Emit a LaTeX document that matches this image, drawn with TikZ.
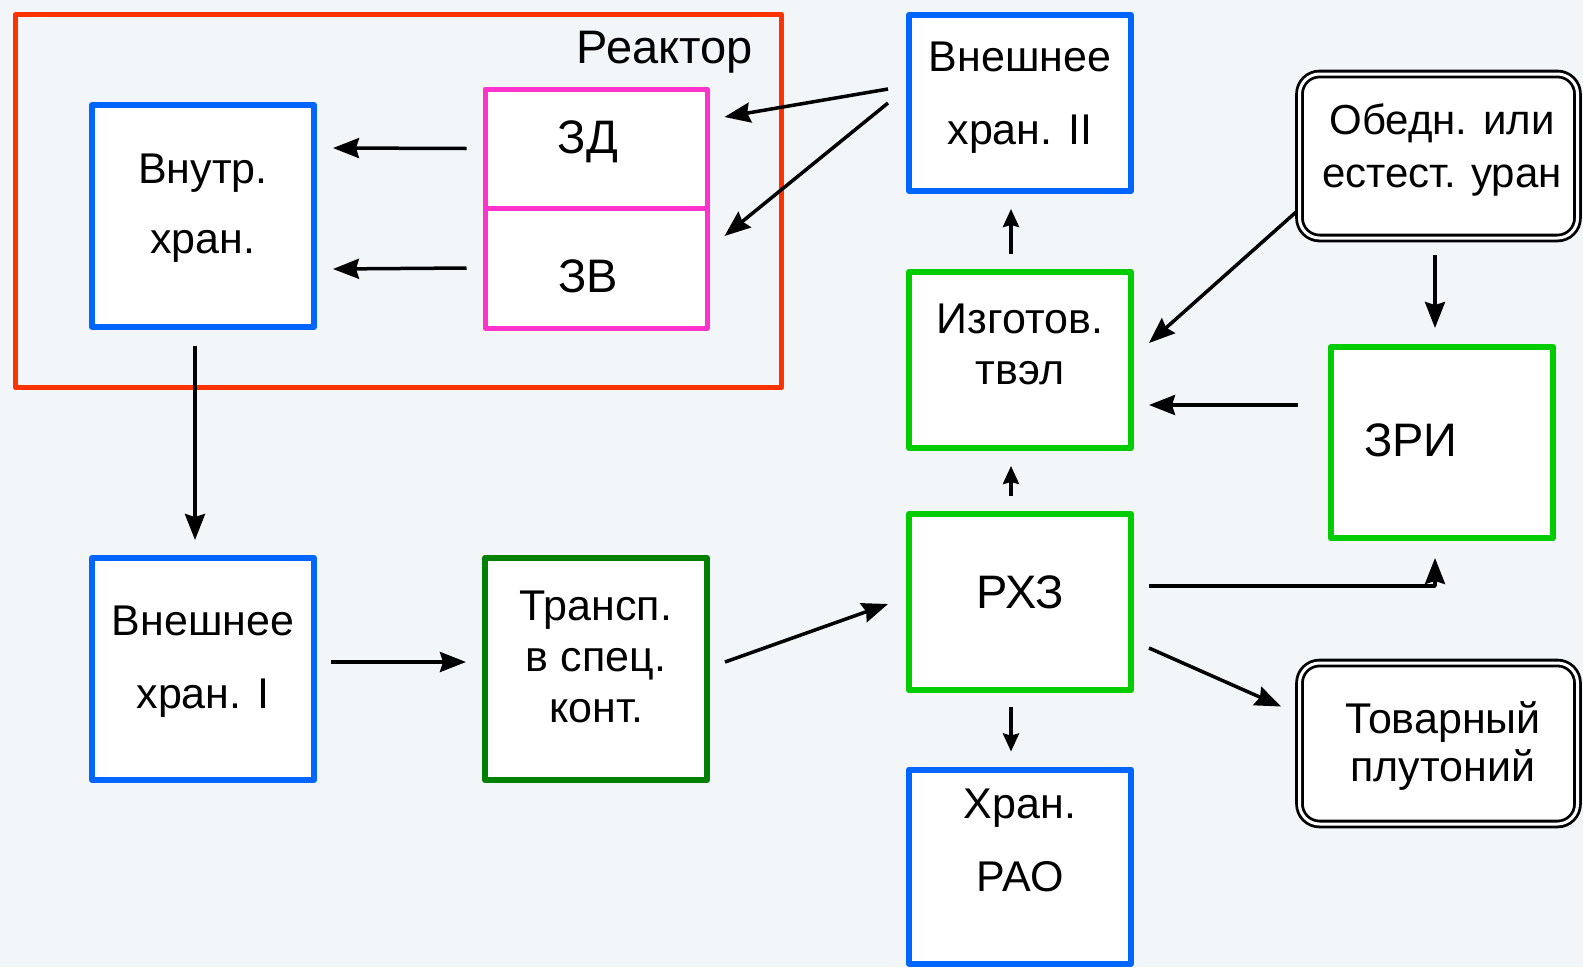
\documentclass[tikz,border=0pt]{standalone}
\usepackage{fontspec}
\setmainfont{Liberation Sans}
\usetikzlibrary{arrows.meta,calc}
\definecolor{boxblue}{RGB}{0,102,255}
\definecolor{boxgreen}{RGB}{0,204,0}
\definecolor{darkgreen}{RGB}{0,128,0}
\definecolor{boxpink}{RGB}{255,51,204}
\definecolor{framered}{RGB}{255,51,0}
\definecolor{bgcol}{RGB}{242,246,249}
\begin{document}
\begin{tikzpicture}[x=1pt,y=-1pt,line join=round,>={Stealth[length=26pt,width=20pt,inset=3pt]}]
			\tikzset{box/.style={draw,fill=white,line width=6pt,inner sep=0pt,minimum width=222pt},
				bluebox/.style={box,draw=boxblue},
				greenbox/.style={box,draw=boxgreen},
				pinkbox/.style={box,draw=boxpink,line width=5pt},
				roundbox/.style={draw=black,double=white,double distance=3pt,line width=2.8pt,fill=white,rounded corners=20pt,minimum width=278pt,inner sep=0pt},
				txt/.style={align=center,inner sep=0pt,font=\fontsize{43pt}{73pt}\selectfont},
				bigtxt/.style={inner sep=0pt,font=\fontsize{47pt}{47pt}\selectfont},
				arr/.style={->,line width=3.5pt},
				sarr/.style={-{Stealth[length=18pt,width=16pt,inset=2pt]},line width=3.5pt}}
			\fill[bgcol] (0,0) rectangle (1583,967);
			\useasboundingbox (0,0) rectangle (1583,967);
			% reactor
			\node[draw=framered,line width=5pt,minimum width=766pt,minimum height=373pt] (reactor) at (398.5,201) {};
			\node[anchor=east,inner sep=0pt,font=\fontsize{47pt}{47pt}\selectfont] (reactorlbl) at (753,52) {Реактор};
			\node[bluebox,minimum height=222pt] (vnutr) at (203,216) {};
			\node[pinkbox,minimum height=119pt] (zd) at (596,148.5) {};
			\node[pinkbox,minimum height=120pt] (zv) at (596,268) {};
			% left column and transport
			\node[bluebox,minimum height=222pt] (ext1) at (203,669) {};
			\node[box,draw=darkgreen,minimum height=222pt] (transp) at (596,669) {};
			% middle column
			\node[bluebox,minimum height=176pt] (ext2) at (1020,103) {};
			\node[greenbox,minimum height=176pt] (izg) at (1020,360) {};
			\node[greenbox,minimum height=176pt] (rhz) at (1020,602) {};
			\node[bluebox,minimum height=194pt] (rao) at (1020,866.5) {};
			% right column
			\node[roundbox,minimum height=164pt] (obedn) at (1438.5,156) {};
			\node[greenbox,minimum height=191pt] (zri) at (1442,442.5) {};
			\node[roundbox,minimum height=161pt] (tovar) at (1438.5,743.5) {};
			% texts
			\node[txt,font=\fontsize{43pt}{70pt}\selectfont] (vnutrt) at (203,208) {Внутр.\\хран.};
			\node[bigtxt] (zdt) at (588,142) {ЗД};
			\node[bigtxt] (zvt) at (588,276) {ЗВ};
			\node[txt] (ext1t) at (203,662) {Внешнее\\хран. I};
			\node[txt,font=\fontsize{43pt}{51pt}\selectfont] (transpt) at (596,657) {Трансп.\\в спец.\\конт.};
			\node[txt] (ext2t) at (1020,98) {Внешнее\\хран. II};
			\node[txt,font=\fontsize{43pt}{51pt}\selectfont] (izgt) at (1020,344) {Изготов.\\твэл};
			\node[bigtxt] (rhzt) at (1020,592) {РХЗ};
			\node[txt] (raot) at (1020,840) {Хран.\\РАО};
			\node[txt,font=\fontsize{42pt}{53pt}\selectfont] (obednt) at (1442,150) {Обедн. или\\естест. уран};
			\node[bigtxt] (zrit) at (1411,440) {ЗРИ};
			\node[txt,font=\fontsize{43pt}{48pt}\selectfont] (tovart) at (1443,746) {Товарный\\плутоний};
			% connectors
			\draw[arr] ($(zd.west)+(-16,0)$) -- ($(vnutr.east)+(16,-68)$);
			\draw[arr] ($(zv.west)+(-16,0)$) -- ($(vnutr.east)+(16,53)$);
			\draw[arr] ($(vnutr.south)+(-8,16)$) -- ($(ext1.north)+(-8,-15)$);
			\draw[arr] ($(ext1.east)+(14,-7)$) -- ($(transp.west)+(-16,-7)$);
			\draw[arr] ($(transp.east)+(15,-7)$) -- ($(rhz.west)+(-18,2)$);
			\draw[arr] ($(ext2.west)+(-18,-14)$) -- ($(zd.east)+(15,-31.5)$);
			\draw[arr] ($(ext2.west)+(-18,0)$) -- ($(zv.east)+(15,-32)$);
			\foreach \a/\b in {rhz/izg,izg/ext2}
			\draw[sarr] ($(\a.north)+(-9,-15)$) -- ($(\b.south)+(-9,15)$);
			\draw[sarr] ($(rhz.south)+(-9,14)$) -- ($(rao.north)+(-9,-15)$);
			\draw[arr] ($(obedn.west)+(-2,56)$) -- ($(izg.east)+(15,-17)$);
			\draw[arr] ($(obedn.south)+(-3.5,16)$) -- ($(zri.north)+(-7,-16)$);
			\draw[arr] ($(zri.west)+(-30,-37.5)$) -- ($(izg.east)+(15,45)$);
			\draw[arr] ($(rhz.east)+(15,-16)$) -| ($(zri.south)+(-7,17)$);
			\draw[arr] ($(rhz.east)+(15,46)$) -- ($(tovar.west)+(-17,-37)$);
\end{tikzpicture}
\end{document}
